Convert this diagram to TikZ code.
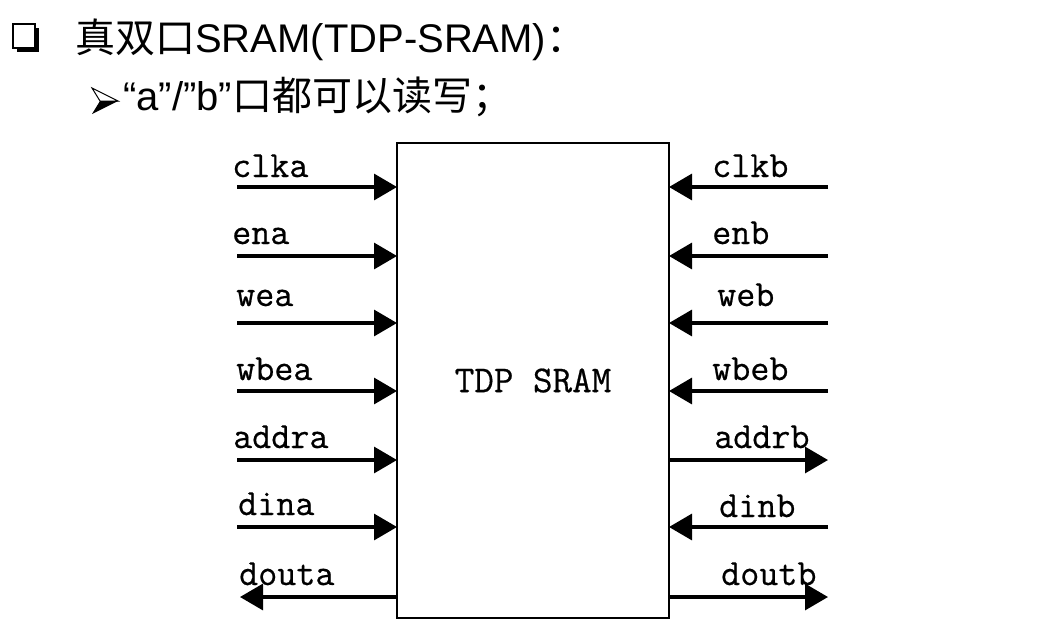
\documentclass[tikz,border=0pt]{standalone}
\usepackage{fontspec}
\setmainfont{Liberation Sans}
\newfontfamily\cjk{Noto Sans CJK SC}
\newfontfamily\labfont[FakeBold=0.5]{Latin Modern Mono}
\usetikzlibrary{arrows.meta}
\begin{document}
\begin{tikzpicture}[x=1pt,y=-1pt,
  sig/.style={line width=3.2pt,-{Triangle[length=23pt,width=26pt]}},
  lab/.style={font=\fontsize{37}{37}\labfont,inner sep=0pt,anchor=base west},
  ttl/.style={font=\fontsize{40}{40}\selectfont,inner sep=0pt,anchor=base west},
  membox/.style={draw,line width=2.6pt,minimum width=272pt,minimum height=475pt,outer sep=0pt,inner sep=0pt,font=\fontsize{38}{38}\labfont}]
\useasboundingbox (0,0) rectangle (1056,632);
% title bullets
\fill[black] (17,28) -- (39,28) -- (39,52) -- (17,52) -- cycle;
\draw[line width=2.6pt,fill=white] (13,24) rectangle (35,48);
\draw[line width=1pt,fill=white] (92,88) -- (118,101) -- (100,101) -- cycle;
\fill[black] (92,114) -- (118,101) -- (100,101) -- cycle;
\node[ttl] (t1) at (75,52) {{\cjk 真双口}SRAM(TDP-SRAM){\cjk ：}};
\node[ttl] (t2) at (123,110) {“a”/”b”{\cjk 口都可以读写；}};
% memory box
\node[membox] (mem) at (533,380.5) {TDP SRAM};
% left free ends
\coordinate (la) at (237,187);
\coordinate (lb) at (237,256);
\coordinate (lc) at (237,323);
\coordinate (ld) at (237,391);
\coordinate (le) at (237,460);
\coordinate (lf) at (237,527);
\coordinate (lg) at (240,597);
% right free ends
\coordinate (ra) at (828,187);
\coordinate (rb) at (828,256);
\coordinate (rc) at (828,323);
\coordinate (rd) at (828,391);
\coordinate (re) at (828,460);
\coordinate (rf) at (828,527);
\coordinate (rg) at (828,597);
% left connectors
\draw[sig] (la) -- (mem.west |- la);
\draw[sig] (lb) -- (mem.west |- lb);
\draw[sig] (lc) -- (mem.west |- lc);
\draw[sig] (ld) -- (mem.west |- ld);
\draw[sig] (le) -- (mem.west |- le);
\draw[sig] (lf) -- (mem.west |- lf);
\draw[sig] (mem.west |- lg) -- (lg);
% right connectors
\draw[sig] (ra) -- (mem.east |- ra);
\draw[sig] (rb) -- (mem.east |- rb);
\draw[sig] (rc) -- (mem.east |- rc);
\draw[sig] (rd) -- (mem.east |- rd);
\draw[sig] (mem.east |- re) -- (re);
\draw[sig] (rf) -- (mem.east |- rf);
\draw[sig] (mem.east |- rg) -- (rg);
% left labels
\node[lab] (n1) at (232,177) {clka};
\node[lab] (n2) at (232,244) {ena};
\node[lab] (n3) at (236,306) {wea};
\node[lab] (n4) at (236,380) {wbea};
\node[lab] (n5) at (233,448) {addra};
\node[lab] (n6) at (238,515) {dina};
\node[lab] (n7) at (239,585) {douta};
% right labels
\node[lab] (m1) at (712,177) {clkb};
\node[lab] (m2) at (712,244) {enb};
\node[lab] (m3) at (717,306) {web};
\node[lab] (m4) at (712,380) {wbeb};
\node[lab] (m5) at (714,448) {addrb};
\node[lab] (m6) at (719,517) {dinb};
\node[lab] (m7) at (721,585) {doutb};
\end{tikzpicture}
\end{document}
